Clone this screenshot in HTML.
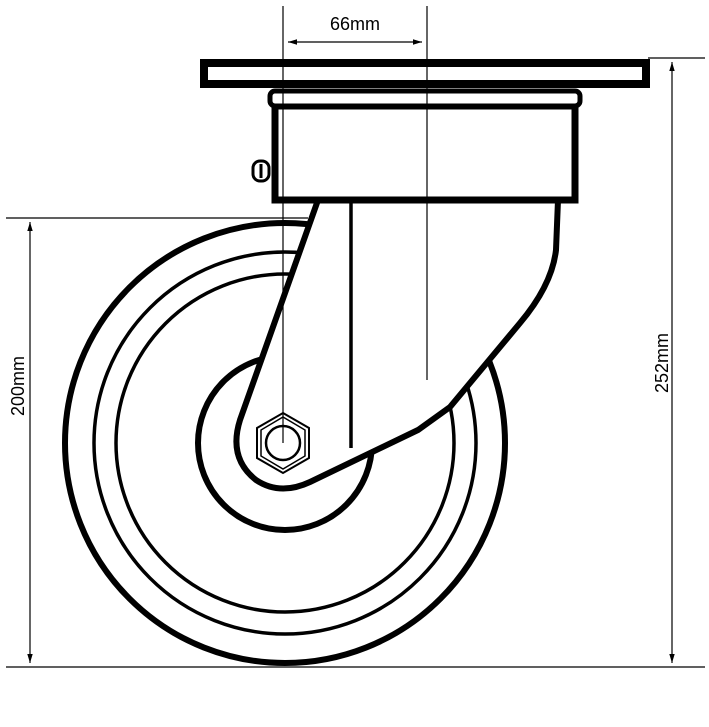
<!DOCTYPE html>
<html><head><meta charset="utf-8"><style>
html,body{margin:0;padding:0;background:#fff;}
svg{display:block;}
text{font-family:"Liberation Sans",sans-serif;font-size:18px;fill:#000;}
</style></head><body>
<svg width="709" height="727" viewBox="0 0 709 727" xmlns="http://www.w3.org/2000/svg">
<defs>
<marker id="a" viewBox="0 0 10 10" refX="10" refY="5" markerWidth="9" markerHeight="9" orient="auto-start-reverse" markerUnits="userSpaceOnUse"><path d="M0,2 L10,5 L0,8 Z" fill="#000"/></marker>
</defs>
<g fill="none" stroke="#000">
<circle cx="285" cy="443" r="220" stroke-width="6"/>
<circle cx="285" cy="443" r="191" stroke-width="3.5"/>
<circle cx="285" cy="443" r="169" stroke-width="3.5"/>
<circle cx="285" cy="443" r="87" stroke-width="6"/>
<path d="M318,200 L240,420 Q228,458 256,480 Q280,496 310,482 L418,430 L450,407 L520,323 Q552,285 556,250 L558,200 Z" fill="#fff" stroke-width="6"/>
<line x1="351" y1="200" x2="351" y2="448" stroke-width="3.5"/>
<polygon points="283,413 309,428 309,458 283,473 257,458 257,428" stroke-width="2"/>
<polygon points="283,417 305,430 305,456 283,469 261,456 261,430" stroke-width="1.5"/>
<circle cx="283" cy="443" r="17" stroke-width="2.5"/>
<rect x="275" y="106" width="300" height="94" fill="#fff" stroke-width="7"/>
<rect x="270" y="91" width="310" height="15" rx="5" fill="#fff" stroke-width="5"/>
<line x1="290" y1="90" x2="560" y2="90" stroke-width="3"/>
<rect x="204" y="63" width="442" height="21" fill="#fff" stroke-width="8"/>
<rect x="253" y="161" width="16" height="20" rx="7" fill="#fff" stroke-width="3"/>
<line x1="261" y1="164" x2="261" y2="178" stroke-width="3"/>
<g stroke-width="1.2">
<line x1="283" y1="6" x2="283" y2="443"/>
<line x1="427" y1="6" x2="427" y2="380"/>
<line x1="288" y1="42" x2="422" y2="42" marker-start="url(#a)" marker-end="url(#a)"/>
<line x1="6" y1="218" x2="308" y2="218"/>
<line x1="6" y1="667" x2="705" y2="667"/>
<line x1="648" y1="58" x2="705" y2="58"/>
<line x1="30" y1="222" x2="30" y2="663" marker-start="url(#a)" marker-end="url(#a)"/>
<line x1="672" y1="62" x2="672" y2="663" marker-start="url(#a)" marker-end="url(#a)"/>
</g>
</g>
<text x="355" y="30" text-anchor="middle">66mm</text>
<text transform="translate(24,386) rotate(-90)" text-anchor="middle">200mm</text>
<text transform="translate(668,363) rotate(-90)" text-anchor="middle">252mm</text>
</svg>
</body></html>
